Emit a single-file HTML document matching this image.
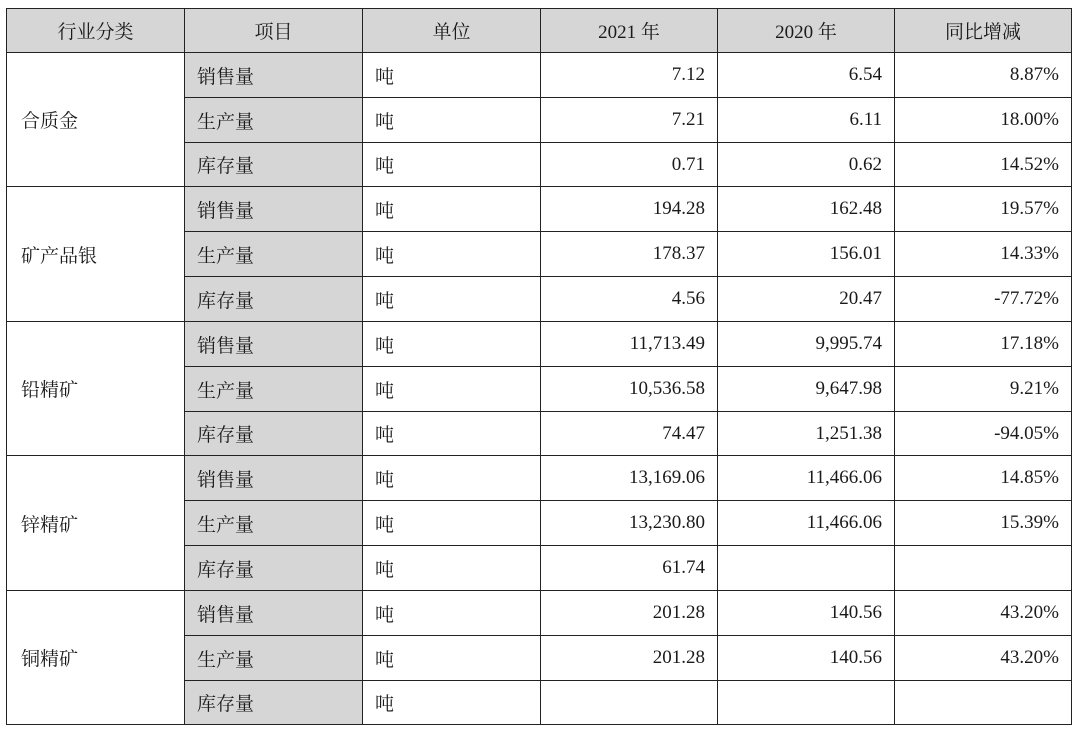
<!DOCTYPE html>
<html><head><meta charset="utf-8"><style>
body{margin:0;background:#fff;width:1080px;height:732px;overflow:hidden}
table{position:absolute;left:6px;top:8px;border-collapse:collapse;table-layout:fixed;
font-family:"Liberation Serif","Noto Serif CJK SC",serif;font-size:19px;color:#1a1a1a}
td{border:1.5px solid #222;padding:0;white-space:nowrap}
tr.h td{background:#d6d6d6;text-align:center;height:43px}
td.g{background:#d6d6d6;padding-left:12px}
td.c{padding-left:14px}
td.u{padding-left:12px}
td.n{text-align:right;padding-right:12px}
tr.a td{height:44px}tr.b td{height:44px}tr.c2 td{height:43px}tr.c3 td{height:44px}
</style></head><body>
<table>
<colgroup><col style="width:178px"><col style="width:178px"><col style="width:178px"><col style="width:177px"><col style="width:177px"><col style="width:177px"></colgroup>
<tr class="h"><td>行业分类</td><td>项目</td><td>单位</td><td>2021 年</td><td>2020 年</td><td>同比增减</td></tr>
<tr class="a"><td class="c" rowspan="3">合质金</td><td class="g">销售量</td><td class="u">吨</td><td class="n">7.12</td><td class="n">6.54</td><td class="n">8.87%</td></tr>
<tr class="b"><td class="g">生产量</td><td class="u">吨</td><td class="n">7.21</td><td class="n">6.11</td><td class="n">18.00%</td></tr>
<tr class="c2"><td class="g">库存量</td><td class="u">吨</td><td class="n">0.71</td><td class="n">0.62</td><td class="n">14.52%</td></tr>
<tr class="a"><td class="c" rowspan="3">矿产品银</td><td class="g">销售量</td><td class="u">吨</td><td class="n">194.28</td><td class="n">162.48</td><td class="n">19.57%</td></tr>
<tr class="b"><td class="g">生产量</td><td class="u">吨</td><td class="n">178.37</td><td class="n">156.01</td><td class="n">14.33%</td></tr>
<tr class="c3"><td class="g">库存量</td><td class="u">吨</td><td class="n">4.56</td><td class="n">20.47</td><td class="n">-77.72%</td></tr>
<tr class="a"><td class="c" rowspan="3">铅精矿</td><td class="g">销售量</td><td class="u">吨</td><td class="n">11,713.49</td><td class="n">9,995.74</td><td class="n">17.18%</td></tr>
<tr class="b"><td class="g">生产量</td><td class="u">吨</td><td class="n">10,536.58</td><td class="n">9,647.98</td><td class="n">9.21%</td></tr>
<tr class="c2"><td class="g">库存量</td><td class="u">吨</td><td class="n">74.47</td><td class="n">1,251.38</td><td class="n">-94.05%</td></tr>
<tr class="a"><td class="c" rowspan="3">锌精矿</td><td class="g">销售量</td><td class="u">吨</td><td class="n">13,169.06</td><td class="n">11,466.06</td><td class="n">14.85%</td></tr>
<tr class="b"><td class="g">生产量</td><td class="u">吨</td><td class="n">13,230.80</td><td class="n">11,466.06</td><td class="n">15.39%</td></tr>
<tr class="c3"><td class="g">库存量</td><td class="u">吨</td><td class="n">61.74</td><td class="n"></td><td class="n"></td></tr>
<tr class="a"><td class="c" rowspan="3">铜精矿</td><td class="g">销售量</td><td class="u">吨</td><td class="n">201.28</td><td class="n">140.56</td><td class="n">43.20%</td></tr>
<tr class="b"><td class="g">生产量</td><td class="u">吨</td><td class="n">201.28</td><td class="n">140.56</td><td class="n">43.20%</td></tr>
<tr class="c2"><td class="g">库存量</td><td class="u">吨</td><td class="n"></td><td class="n"></td><td class="n"></td></tr>
</table>
</body></html>
